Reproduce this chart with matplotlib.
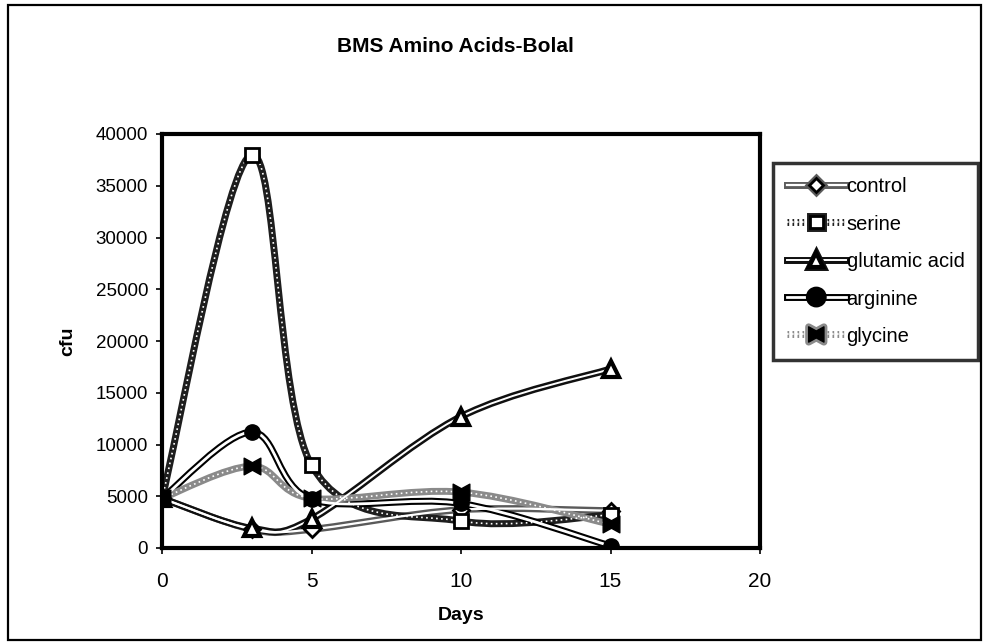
import matplotlib
matplotlib.use("Agg")
import matplotlib.pyplot as plt
import matplotlib.patheffects as pe
from matplotlib.path import Path
from matplotlib.patches import PathPatch, Rectangle
from matplotlib.lines import Line2D

plt.rcParams['font.family'] = ['Liberation Sans', 'DejaVu Sans']

# Colony counts (cfu) over time for each amino acid treatment
days = [0, 3, 5, 10, 15]
control = [4800, 1800, 1800, 3700, 3600]
serine = [4800, 38000, 8000, 2600, 3200]
glutamic_acid = [4800, 1900, 2800, 12700, 17300]
arginine = [4800, 11200, 4700, 4300, 200]
glycine = [4800, 7900, 4800, 5400, 2300]

series_names = ["control", "serine", "glutamic acid", "arginine", "glycine"]
series_values = [control, serine, glutamic_acid, arginine, glycine]

x_ticks = [0, 5, 10, 15, 20]
y_ticks = [0, 5000, 10000, 15000, 20000, 25000, 30000, 35000, 40000]

# hourglass-like marker used for glycine
bowtie = Path([(-1, 1), (0, 0.45), (1, 1), (1, -1), (0, -0.45), (-1, -1), (-1, 1)],
              [Path.MOVETO] + [Path.LINETO] * 5 + [Path.CLOSEPOLY])

styles = {
    "control": dict(outer="#5a5a5a", inner_ls="-", inner_lw=1.6, marker="D", ms=8,
                    mfc="white", mec="black", mew=2.0),
    "serine": dict(outer="#1e1e1e", inner_ls=(0, (1, 2)), inner_lw=1.2, marker="s", ms=10,
                   mfc="white", mec="black", mew=2.0),
    "glutamic acid": dict(outer="#101010", inner_ls="-", inner_lw=1.4, marker="^", ms=11,
                          mfc="white", mec="black", mew=3.0),
    "arginine": dict(outer="#000000", inner_ls="-", inner_lw=2.0, marker="o", ms=11,
                     mfc="black", mec="black", mew=1.0),
    "glycine": dict(outer="#8a8a8a", inner_ls=(0, (1, 2)), inner_lw=1.2, marker=bowtie, ms=12,
                    mfc="black", mec="black", mew=1.0),
}


def smooth_path(xs, ys):
    """Cubic Bezier path through the points (Catmull-Rom style smoothing)."""
    pts = list(zip(xs, ys))
    n = len(pts)
    verts = [pts[0]]
    codes = [Path.MOVETO]
    for i in range(n - 1):
        p0 = pts[i - 1] if i > 0 else pts[i]
        p1 = pts[i]
        p2 = pts[i + 1]
        p3 = pts[i + 2] if i + 2 < n else pts[i + 1]
        c1 = (p1[0] + (p2[0] - p0[0]) / 6.0, p1[1] + (p2[1] - p0[1]) / 6.0)
        c2 = (p2[0] - (p3[0] - p1[0]) / 6.0, p2[1] - (p3[1] - p1[1]) / 6.0)
        verts += [c1, c2, p2]
        codes += [Path.CURVE4] * 3
    return Path(verts, codes)


fig = plt.figure(figsize=(9.84, 6.43), dpi=100)
fig.patch.set_facecolor("white")

# outer chart frame
fig.add_artist(Rectangle((8 / 984, 3 / 643), 973 / 984, 635 / 643, transform=fig.transFigure,
                         fill=False, edgecolor="black", linewidth=1.6))

ax = fig.add_axes([162 / 984, 1 - 548 / 643, 598 / 984, 414 / 643])

handles = []
for name, vals in zip(series_names, series_values):
    st = styles[name]
    path = smooth_path(days, vals)
    outer = PathPatch(path, fill=False, edgecolor=st["outer"], linewidth=5.0,
                      capstyle="round", joinstyle="round", zorder=2)
    inner = PathPatch(path, fill=False, edgecolor="white", linewidth=st["inner_lw"],
                      linestyle=st["inner_ls"], zorder=2.1)
    ax.add_patch(outer)
    ax.add_patch(inner)
    ax.plot(days, vals, linestyle="none", marker=st["marker"], markersize=st["ms"],
            markerfacecolor=st["mfc"], markeredgecolor=st["mec"],
            markeredgewidth=st["mew"], zorder=3)
    h = Line2D([], [], color="white", linewidth=st["inner_lw"], linestyle=st["inner_ls"],
               marker=st["marker"], markersize=st["ms"] - 1, markerfacecolor=st["mfc"],
               markeredgecolor=st["mec"], markeredgewidth=st["mew"],
               path_effects=[pe.Stroke(linewidth=5.0, foreground=st["outer"]), pe.Normal()],
               label=name)
    handles.append(h)

ax.set_xlim(0, 20)
ax.set_ylim(0, 40000)
ax.set_xticks(x_ticks)
ax.set_yticks(y_ticks)
ax.set_xticklabels([str(v) for v in x_ticks])
ax.set_yticklabels([str(v) for v in y_ticks])
ax.tick_params(axis="both", labelsize=13.5, length=4, width=1.2, direction="out", pad=6)
ax.tick_params(axis="x", labelsize=15, pad=13)
for sp in ax.spines.values():
    sp.set_linewidth(3.0)
    sp.set_color("black")

ax.set_xlabel("Days", fontsize=14, fontweight="bold", labelpad=12)
ax.set_ylabel("cfu", fontsize=14, fontweight="bold", labelpad=14)

fig.text(455 / 984, 1 - 46 / 643, "BMS Amino Acids-Bolal", ha="center", va="center",
         fontsize=15, fontweight="bold")

leg = fig.legend(handles=handles, loc="upper left",
                 bbox_to_anchor=(773 / 984, 1 - 163 / 643), bbox_transform=fig.transFigure,
                 frameon=True, fancybox=False, fontsize=14.5, handlelength=2.9,
                 handletextpad=0.05, labelspacing=0.9, borderpad=0.7, borderaxespad=0,
                 handleheight=0.9)
leg.get_frame().set_edgecolor("black")
leg.get_frame().set_linewidth(2.5)

fig.savefig("out.png", dpi=100)
